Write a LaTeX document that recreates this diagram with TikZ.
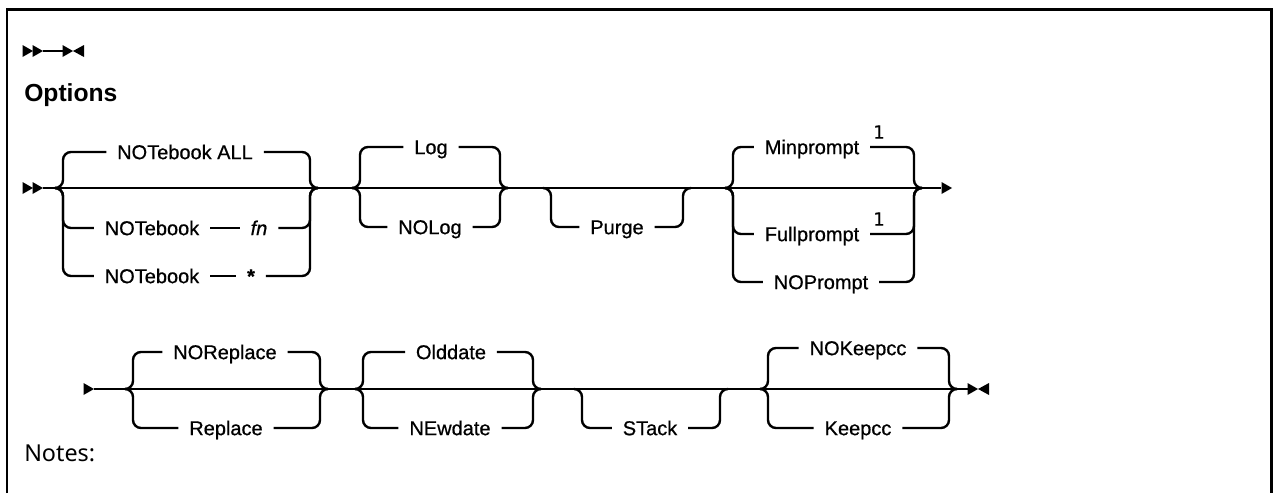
\documentclass[tikz,border=0pt]{standalone}
\usepackage{fontspec}
\setmainfont{Liberation Sans}
\newfontfamily\railfont[FakeBold=0.7]{Liberation Sans}
\newfontfamily\plexsans{Noto Sans}
\newfontfamily\digitfont[FakeBold=0.5]{DejaVu Sans}
\usetikzlibrary{positioning}
\tikzset{
  rail/.style={line width=1.8pt, rounded corners=6pt},
  kw/.style={inner xsep=8pt, inner ysep=0pt, text height=10.7pt, text depth=0pt,
             font=\railfont\fontsize{15}{18}\selectfont},
  var/.style={kw, font=\railfont\fontsize{15}{18}\selectfont\itshape},
  fnote/.style={inner sep=0pt, font=\digitfont\fontsize{13.5}{15}\selectfont},
  heading/.style={anchor=west, inner sep=0pt, text height=12.5pt, text depth=0pt},
  outerbox/.style={line width=2pt},
}
% filled tips of the rail marks
\newcommand{\tipright}[1]{\fill #1 -- ++(-10.5,-6) -- ++(0,12) -- cycle;}
\newcommand{\tipleft}[1]{\fill #1 -- ++(11,-6) -- ++(0,12) -- cycle;}

\begin{document}
\begin{tikzpicture}[x=0.75pt, y=-0.75pt]
  \useasboundingbox (0,0) rectangle (1274,493);
  \draw[outerbox] (7,493) -- (7,9.5) -- (1271.5,9.5) -- (1271.5,493);

  % empty syntax
  \coordinate (e0) at (43,51); \coordinate (e1) at (73,51);
  \tipright{(33,51)} \tipright{(e0)}
  \draw[rail] (e0) -- ++(20,0);
  \tipright{(e1)} \tipleft{(e1)}

  \node[heading, font=\bfseries\fontsize{18.5}{22}\selectfont] (title) at (24,93) {Options};

  % ---- first line
  \coordinate (r1s) at (43,188); \coordinate (r1e) at (941,188);
  \tipright{(33,188)} \tipright{(r1s)}
  \draw[rail] (r1s) -- (r1e);
  \tipright{(952,188)}

  \node[kw] (nball) at (185,152) {NOTebook ALL};
  \node[kw] (nbfn) at (152,228) {NOTebook};
  \node[var] (fn) at (259,228) {fn};
  \node[kw] (nbst) at (152,276) {NOTebook};
  \node[kw] (star) at (251,276) {\bfseries *};
  \coordinate (g1in) at (56,188); \coordinate (g1l) at (63,188);
  \coordinate (g1r) at (310,188); \coordinate (g1out) at (317,188);
  \draw[rail] (g1in) -- (g1l) |- (nball.west);
  \draw[rail] (nball.east) -| (g1r) -- (g1out);
  \draw[rail] (g1in) -- (g1l) |- (nbfn.west);
  \draw[rail] (nbfn) -- (fn);
  \draw[rail] (fn.east) -| (g1r) -- (g1out);
  \draw[rail] (g1in) -- (g1l) |- (nbst.west);
  \draw[rail] (nbst) -- (star);
  \draw[rail] (star.east) -| (g1r) -- (g1out);

  \node[kw] (log) at (431,147) {Log};
  \node[kw] (nolog) at (430,227) {NOLog};
  \coordinate (g2in) at (353,188); \coordinate (g2l) at (360,188);
  \coordinate (g2r) at (500,188); \coordinate (g2out) at (507,188);
  \draw[rail] (g2in) -- (g2l) |- (log.west);
  \draw[rail] (log.east) -| (g2r) -- (g2out);
  \draw[rail] (g2in) -- (g2l) |- (nolog.west);
  \draw[rail] (nolog.east) -| (g2r) -- (g2out);

  \node[kw] (purge) at (617,227) {Purge};
  \coordinate (g3in) at (544,188); \coordinate (g3l) at (551,188);
  \coordinate (g3r) at (683,188); \coordinate (g3out) at (690,188);
  \draw[rail] (g3in) -- (g3l) |- (purge.west);
  \draw[rail] (purge.east) -| (g3r) -- (g3out);

  \node[kw] (minp) at (812,147) {Minprompt};
  \node[fnote] (fn1) at (879,132) {1};
  \node[kw] (fullp) at (812,234) {Fullprompt};
  \node[fnote] (fn2) at (879,219) {1};
  \node[kw] (nop) at (821,282) {NOPrompt};
  \coordinate (g4in) at (726,188); \coordinate (g4l) at (733,188);
  \coordinate (g4r) at (914,188); \coordinate (g4out) at (921,188);
  \draw[rail] (g4in) -- (g4l) |- (minp.west);
  \draw[rail] (minp.east) -| (g4r) -- (g4out);
  \draw[rail] (g4in) -- (g4l) |- (fullp.west);
  \draw[rail] (fullp.east) -| (g4r) -- (g4out);
  \draw[rail] (g4in) -- (g4l) |- (nop.west);
  \draw[rail] (nop.east) -| (g4r) -- (g4out);

  % ---- second line
  \coordinate (r2s) at (94,389); \coordinate (r2e) at (968,389);
  \tipright{(r2s)}
  \draw[rail] (r2s) -- (r2e);
  \tipright{(978,389)} \tipleft{(978,389)}

  \node[kw] (norep) at (225,352) {NOReplace};
  \node[kw] (rep) at (226,428) {Replace};
  \coordinate (g5in) at (126,389); \coordinate (g5l) at (133,389);
  \coordinate (g5r) at (320,389); \coordinate (g5out) at (327,389);
  \draw[rail] (g5in) -- (g5l) |- (norep.west);
  \draw[rail] (norep.east) -| (g5r) -- (g5out);
  \draw[rail] (g5in) -- (g5l) |- (rep.west);
  \draw[rail] (rep.east) -| (g5r) -- (g5out);

  \node[kw] (oldd) at (451,352) {Olddate};
  \node[kw] (newd) at (450,428) {NEwdate};
  \coordinate (g6in) at (356,389); \coordinate (g6l) at (363,389);
  \coordinate (g6r) at (533,389); \coordinate (g6out) at (540,389);
  \draw[rail] (g6in) -- (g6l) |- (oldd.west);
  \draw[rail] (oldd.east) -| (g6r) -- (g6out);
  \draw[rail] (g6in) -- (g6l) |- (newd.west);
  \draw[rail] (newd.east) -| (g6r) -- (g6out);

  \node[kw] (stack) at (650,428) {STack};
  \coordinate (g7in) at (575,389); \coordinate (g7l) at (582,389);
  \coordinate (g7r) at (720,389); \coordinate (g7out) at (727,389);
  \draw[rail] (g7in) -- (g7l) |- (stack.west);
  \draw[rail] (stack.east) -| (g7r) -- (g7out);

  \node[kw] (nokeep) at (858,348) {NOKeepcc};
  \node[kw] (keep) at (858,428) {Keepcc};
  \coordinate (g8in) at (761,389); \coordinate (g8l) at (768,389);
  \coordinate (g8r) at (949,389); \coordinate (g8out) at (956,389);
  \draw[rail] (g8in) -- (g8l) |- (nokeep.west);
  \draw[rail] (nokeep.east) -| (g8r) -- (g8out);
  \draw[rail] (g8in) -- (g8l) |- (keep.west);
  \draw[rail] (keep.east) -| (g8r) -- (g8out);

  \node[heading, font=\plexsans\fontsize{17.5}{20}\selectfont] (notes) at (24,453) {Notes:};
\end{tikzpicture}
\end{document}
